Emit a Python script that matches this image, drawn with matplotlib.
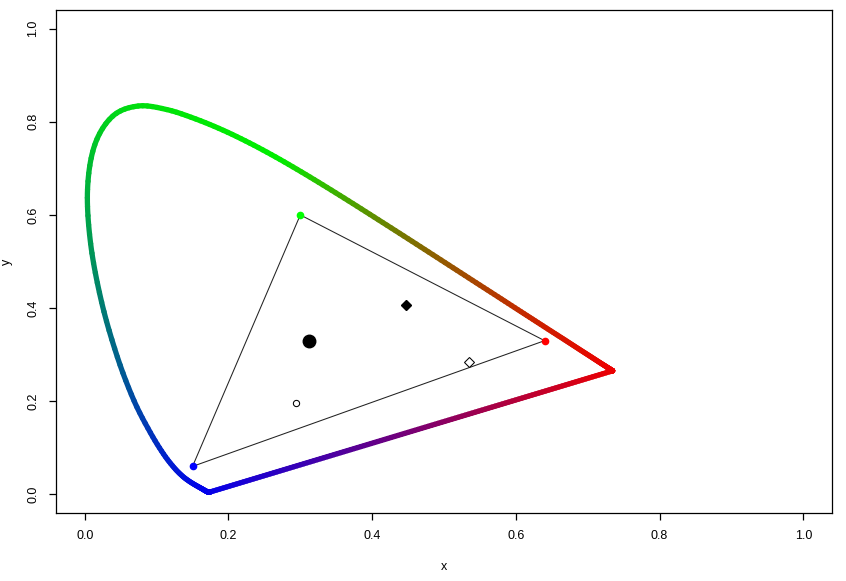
import numpy as np
import matplotlib
matplotlib.use("Agg")
import matplotlib.pyplot as plt
from matplotlib.collections import LineCollection
from matplotlib.path import Path
from matplotlib.patches import PathPatch
from matplotlib.bezier import split_de_casteljau

plt.rcParams['font.family'] = ['Liberation Sans', 'DejaVu Sans']

# CIE 1931 2-degree spectral locus chromaticities, 380-700 nm (5 nm)
locus_x = [0.1741, 0.1740, 0.1738, 0.1736, 0.1733, 0.1730, 0.1726, 0.1721,
           0.1714, 0.1703, 0.1689, 0.1669, 0.1644, 0.1611, 0.1566, 0.1510,
           0.1440, 0.1355, 0.1241, 0.1096, 0.0913, 0.0687, 0.0454, 0.0235,
           0.0082, 0.0039, 0.0139, 0.0389, 0.0743, 0.1142, 0.1547, 0.1929,
           0.2296, 0.2658, 0.3016, 0.3373, 0.3731, 0.4087, 0.4441, 0.4788,
           0.5125, 0.5448, 0.5752, 0.6029, 0.6270, 0.6482, 0.6658, 0.6801,
           0.6915, 0.7006, 0.7079, 0.7140, 0.7190, 0.7230, 0.7260, 0.7283,
           0.7300, 0.7311, 0.7320, 0.7327, 0.7334, 0.7340, 0.7344, 0.7346,
           0.7347]
locus_y = [0.0050, 0.0050, 0.0049, 0.0049, 0.0048, 0.0048, 0.0048, 0.0048,
           0.0051, 0.0058, 0.0069, 0.0086, 0.0109, 0.0138, 0.0177, 0.0227,
           0.0297, 0.0399, 0.0578, 0.0868, 0.1327, 0.2007, 0.2950, 0.4127,
           0.5384, 0.6548, 0.7502, 0.8120, 0.8338, 0.8262, 0.8059, 0.7816,
           0.7543, 0.7243, 0.6923, 0.6589, 0.6245, 0.5896, 0.5547, 0.5202,
           0.4866, 0.4544, 0.4242, 0.3965, 0.3725, 0.3514, 0.3340, 0.3197,
           0.3083, 0.2993, 0.2920, 0.2859, 0.2809, 0.2770, 0.2740, 0.2717,
           0.2700, 0.2689, 0.2680, 0.2673, 0.2666, 0.2660, 0.2656, 0.2654,
           0.2653]

# sRGB primaries (R, G, B)
prim_x = [0.64, 0.30, 0.15]
prim_y = [0.33, 0.60, 0.06]
prim_colors = ['#FF0000', '#00FF00', '#0000FF']

# white point D65 and other points
d65 = (0.3127, 0.3290)
illum_a = (0.4476, 0.4074)
open_circle = (0.2937, 0.1963)
open_diamond = (0.5344, 0.2832)

fig = plt.figure(figsize=(8.46, 5.81), dpi=100)
ax = fig.add_axes([56/846, 68/581, 776/846, 503/581])

# colour of a chromaticity: XYZ -> CIE RGB, negatives clipped, sum-normalised
XYZ2RGB = np.array([[0.41847, -0.15866, -0.082835],
                    [-0.091169, 0.25243, 0.015708],
                    [0.0009209, -0.0025498, 0.17860]])

def chroma_color(x, y):
    w = XYZ2RGB @ np.array([x, y, 1.0 - x - y])
    w = np.clip(w, 0, None)
    s = w.sum()
    w = w / s if s > 0 else w
    return np.clip(w * 0.93, 0, 1)

LW = 3.8
# spectral locus drawn as a smooth Bezier curve through the data points
P = np.column_stack([locus_x, locus_y])
n = len(P)
nsub = 6
for i in range(n - 1):
    p0 = P[max(i - 1, 0)]
    p1 = P[i]
    p2 = P[i + 1]
    p3 = P[min(i + 2, n - 1)]
    ctrl = np.array([p1, p1 + (p2 - p0) / 6.0, p2 - (p3 - p1) / 6.0, p2])
    for k in range(nsub, 0, -1):
        if k > 1:
            left, right = split_de_casteljau(ctrl, 1.0 / k)
        else:
            left, right = ctrl, None
        left = np.asarray(left)
        path = Path(left, [Path.MOVETO, Path.CURVE4, Path.CURVE4, Path.CURVE4])
        mid = (left[0] + left[-1]) / 2
        ax.add_patch(PathPatch(path, facecolor='none', edgecolor=chroma_color(*mid),
                               lw=LW, capstyle='round', joinstyle='round', zorder=2))
        if right is not None:
            ctrl = np.asarray(right)

# line of purples: colour ramp between its two end colours
a = P[-1]
b = P[0]
ca = chroma_color(*a)
cb = chroma_color(*b)
t = np.linspace(0, 1, 121)
xs = a[0] + (b[0] - a[0]) * t
ys = a[1] + (b[1] - a[1]) * t
segs = [[(xs[j], ys[j]), (xs[j + 1], ys[j + 1])] for j in range(len(t) - 1)]
tm = (t[:-1] + t[1:]) / 2
cols = [ca * (1 - u) + cb * u for u in tm]
ax.add_collection(LineCollection(segs, colors=cols, linewidths=LW, capstyle='round', zorder=2))

# gamut triangle
tx = prim_x + [prim_x[0]]
ty = prim_y + [prim_y[0]]
ax.plot(tx, ty, color='#222222', lw=0.75, zorder=3)
for px_, py_, c in zip(prim_x, prim_y, prim_colors):
    ax.plot(px_, py_, 'o', color=c, ms=4.5, mec=c, zorder=4)

ax.plot(*d65, 'o', color='black', ms=9, zorder=5)
ax.plot(*illum_a, 'D', color='black', ms=5.2, zorder=5)
ax.plot(*open_circle, 'o', mfc='white', mec='black', mew=0.75, ms=4.5, zorder=5)
ax.plot(*open_diamond, 'D', mfc='white', mec='black', mew=0.75, ms=4.6, zorder=5)

ax.set_xlim(-0.04, 1.04)
ax.set_ylim(-0.04, 1.04)
ticks = [0.0, 0.2, 0.4, 0.6, 0.8, 1.0]
ax.set_xticks(ticks)
ax.set_yticks(ticks)
ax.set_xticklabels(['0.0', '0.2', '0.4', '0.6', '0.8', '1.0'])
ax.set_yticklabels(['0.0', '0.2', '0.4', '0.6', '0.8', '1.0'])
ax.tick_params(direction='out', length=5, width=0.9, labelsize=9, pad=7, colors='black')
for lab in ax.get_yticklabels():
    lab.set_rotation(90)
    lab.set_va('center')
for s in ax.spines.values():
    s.set_linewidth(0.9)
ax.set_xlabel('x', fontsize=9, labelpad=14)
ax.set_ylabel('y', fontsize=9, labelpad=10)

fig.savefig('out.png', dpi=100)
